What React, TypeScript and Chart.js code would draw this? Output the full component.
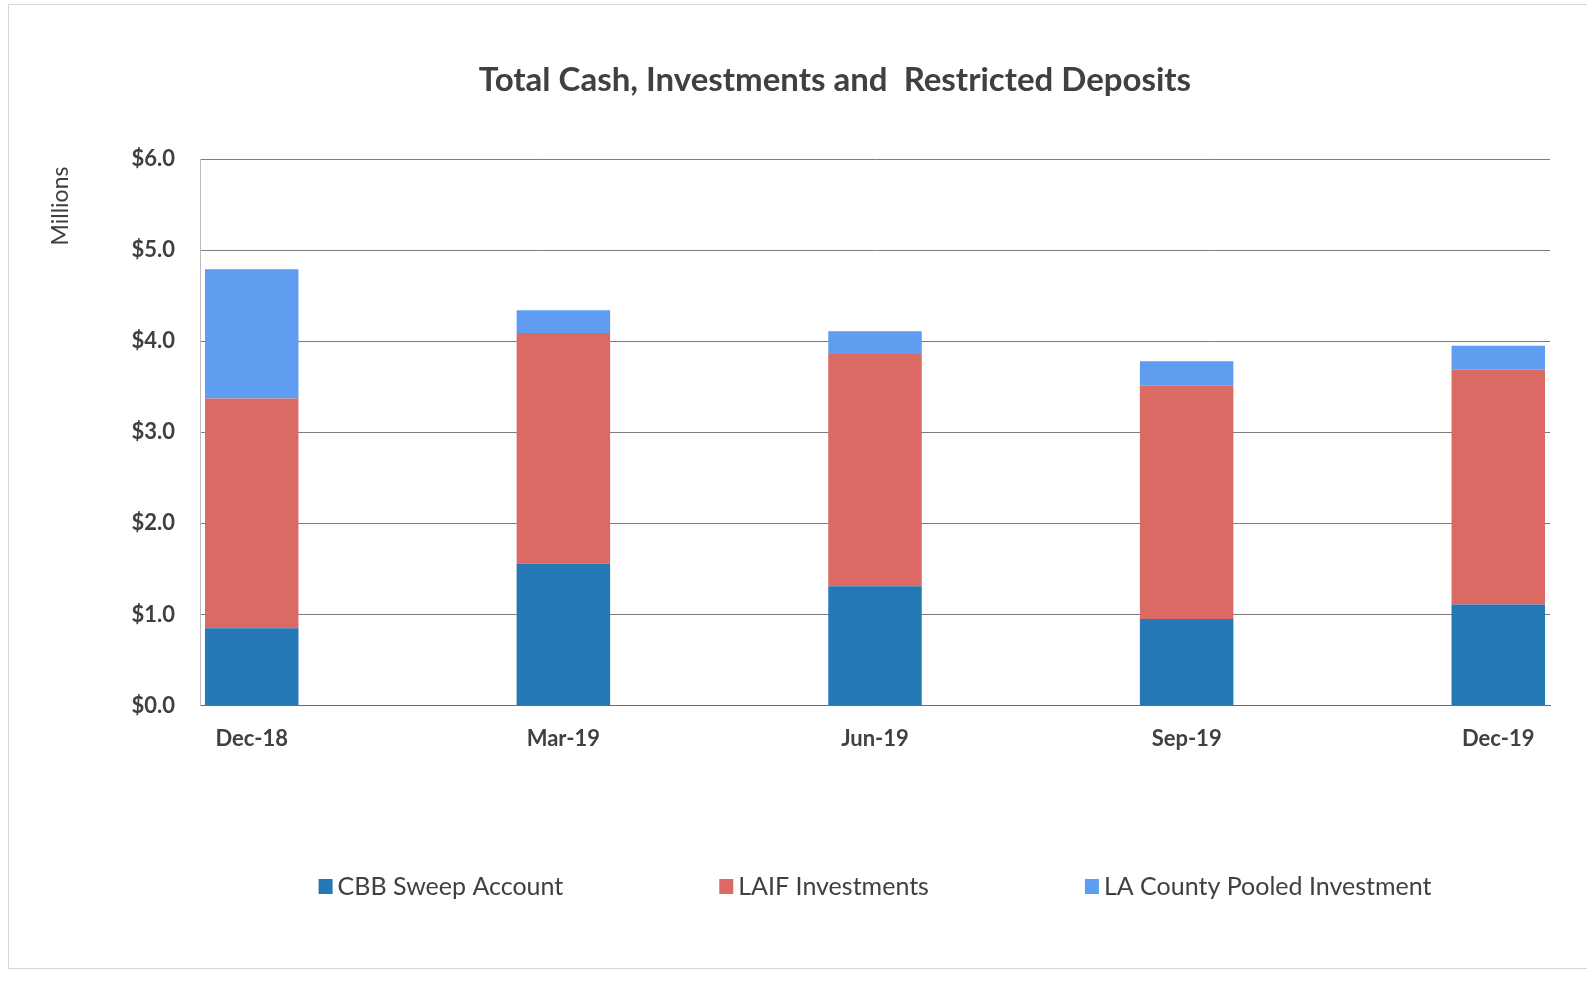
import React, { useEffect, useRef } from 'react';
import { Chart, registerables } from 'chart.js';

Chart.register(...registerables);

// ---- data ----
const categories = ['Dec-18', 'Mar-19', 'Jun-19', 'Sep-19', 'Dec-19'];
const cbbSweep = [0.85, 1.56, 1.31, 0.95, 1.11];
const laifInvestments = [2.52, 2.53, 2.55, 2.56, 2.58];
const laCountyPooled = [1.42, 0.25, 0.25, 0.27, 0.26];
const seriesNames = ['CBB Sweep Account', 'LAIF Investments', 'LA County Pooled Investment'];
const seriesColors = ['#2577B5', '#DA6A63', '#5E9DEF'];
const yTickValues = [0, 1, 2, 3, 4, 5, 6];
const chartTitle = 'Total Cash, Investments and  Restricted Deposits';
const yAxisTitle = 'Millions';

const FONT = 'Lato, "Open Sans", "DejaVu Sans", sans-serif';
const TEXT = '#404040';

const decorPlugin = {
  id: 'decor',
  afterDraw(chart: any) {
    const ctx = chart.ctx as CanvasRenderingContext2D;
    const area = chart.chartArea;
    ctx.save();
    // faint outer frame
    ctx.strokeStyle = '#d6d6d6';
    ctx.lineWidth = 1;
    ctx.beginPath();
    ctx.moveTo(8.5, 968.5);
    ctx.lineTo(8.5, 4.5);
    ctx.lineTo(1600, 4.5);
    ctx.moveTo(8.5, 968.5);
    ctx.lineTo(1600, 968.5);
    ctx.stroke();

    // title
    ctx.fillStyle = TEXT;
    ctx.font = `bold 33px ${FONT}`;
    ctx.textAlign = 'center';
    ctx.textBaseline = 'middle';
    ctx.fillText(chartTitle, 835, 80);

    // y axis title
    ctx.save();
    ctx.translate(61, 206);
    ctx.rotate(-Math.PI / 2);
    ctx.font = `23px ${FONT}`;
    ctx.fillText(yAxisTitle, 0, 0);
    ctx.restore();

    // legend
    const ds = chart.data.datasets;
    ctx.font = `25px ${FONT}`;
    const box = 14;
    const boxGap = 5;
    const itemGap = 156;
    const widths = ds.map((d: any) => box + boxGap + ctx.measureText(d.label).width);
    const total = widths.reduce((a: number, b: number) => a + b, 0) + itemGap * (ds.length - 1);
    let x = (area.left + area.right) / 2 - total / 2;
    const y = 887;
    ctx.textAlign = 'left';
    ds.forEach((d: any, i: number) => {
      ctx.fillStyle = d.backgroundColor;
      ctx.fillRect(x, y - 8, box, 15);
      ctx.fillStyle = TEXT;
      ctx.fillText(d.label, x + box + boxGap, y);
      x += widths[i] + itemGap;
    });
    ctx.restore();
  },
};

export default function App() {
  const ref = useRef<HTMLCanvasElement>(null);

  useEffect(() => {
    document.body.style.margin = '0';
    const canvas = ref.current!;
    const series = [cbbSweep, laifInvestments, laCountyPooled];
    const chart = new Chart(canvas, {
      type: 'bar',
      data: {
        datasets: series.map((vals, s) => ({
          label: seriesNames[s],
          data: categories.map((_, i) => ({ x: i, y: vals[i] })),
          backgroundColor: seriesColors[s],
          borderWidth: 0,
          stack: 'total',
          categoryPercentage: 1,
          barPercentage: 0.3,
        })),
      },
      options: {
        responsive: false,
        animation: false,
        devicePixelRatio: 1,
        layout: { padding: { top: 159, right: 37, bottom: 212, left: 0 } },
        plugins: {
          legend: { display: false },
          title: { display: false },
          tooltip: { enabled: false },
        },
        scales: {
          x: {
            type: 'linear',
            stacked: true,
            offset: false,
            min: -0.166,
            max: categories.length - 1 + 0.166,
            afterBuildTicks: (s: any) => {
              s.ticks = categories.map((_, i) => ({ value: i }));
            },
            grid: { display: false, drawTicks: false, offset: false },
            border: { display: true, color: '#6b6b6b', width: 1 },
            ticks: {
              autoSkip: false,
              maxRotation: 0,
              padding: 20,
              color: TEXT,
              font: { family: FONT, size: 22, weight: 'bold' },
              callback: (v: any) => (Number.isInteger(v) ? categories[v] : ''),
            },
          },
          y: {
            stacked: true,
            min: 0,
            max: 6,
            afterBuildTicks: (s: any) => {
              s.ticks = yTickValues.map((v) => ({ value: v }));
            },
            afterFit: (s: any) => {
              s.width = 200;
            },
            grid: { color: '#7d7d7d', lineWidth: 1, drawTicks: false },
            border: { display: true, color: '#bdbdbd', width: 1 },
            ticks: {
              padding: 25,
              color: TEXT,
              font: { family: FONT, size: 22, weight: 'bold' },
              callback: (v: any) => '$' + Number(v).toFixed(1),
            },
          },
        },
      },
      plugins: [decorPlugin],
    } as any);
    return () => chart.destroy();
  }, []);

  return (
    <div style={{ width: 1587, height: 984, overflow: 'hidden' }}>
      <canvas ref={ref} width={1587} height={984} style={{ display: 'block', width: 1587, height: 984 }} />
    </div>
  );
}
